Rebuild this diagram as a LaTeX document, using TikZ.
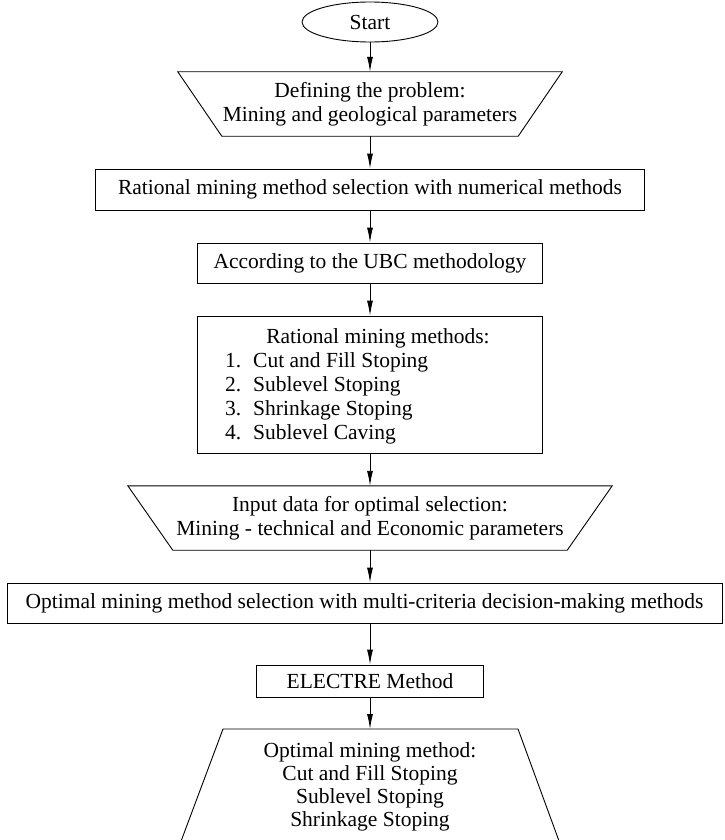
\documentclass[tikz,border=0pt]{standalone}
\usepackage{fontspec}
\setmainfont{Liberation Serif}
\usetikzlibrary{shapes.geometric,arrows.meta}
\tikzset{
  base/.style={font=\fontsize{21.5}{24}\selectfont, inner sep=0pt, align=center},
  box/.style={base, draw, line width=0.9pt, rectangle},
  arr/.style={-{Latex[length=15pt,width=6pt]}, line width=0.9pt},
  outline/.style={draw, line width=0.9pt, line join=miter}
}
\begin{document}
\begin{tikzpicture}[x=1pt,y=-1pt]
\useasboundingbox (0,0) rectangle (724,840);
\clip (0,0) rectangle (724,840);
\fill[white] (0,0) rectangle (724,840);

\node[base, draw, ellipse, line width=0.9pt, minimum width=136pt, minimum height=40pt] (start) at (370,22) {Start};

\node[base, minimum width=384pt, minimum height=64pt] (t1) at (370,104) {Defining the problem:\\Mining and geological parameters};
\draw[outline] (t1.north west) -- (t1.north east) -- ([xshift=-44pt]t1.south east) -- ([xshift=44pt]t1.south west) -- cycle;

\node[box, minimum width=549pt, minimum height=41pt] (b1) at (370,189.5) {Rational mining method selection with numerical methods};

\node[box, minimum width=345pt, minimum height=40pt] (b2) at (370,263) {According to the UBC methodology};

\node[box, minimum width=345pt, minimum height=137pt] (b3) at (370,384.5) {};
\node[base, anchor=base] (b3t) at (378,343) {Rational mining methods:};
\node[base, anchor=base west] (b3a) at (225,367) {\makebox[28pt][l]{1.}Cut and Fill Stoping};
\node[base, anchor=base west] (b3b) at (225,391) {\makebox[28pt][l]{2.}Sublevel Stoping};
\node[base, anchor=base west] (b3c) at (225,415) {\makebox[28pt][l]{3.}Shrinkage Stoping};
\node[base, anchor=base west] (b3d) at (225,439) {\makebox[28pt][l]{4.}Sublevel Caving};

\node[base, minimum width=484pt, minimum height=64pt] (t2) at (370,518) {Input data for optimal selection:\\Mining - technical and Economic parameters};
\draw[outline] (t2.north west) -- (t2.north east) -- ([xshift=-45pt]t2.south east) -- ([xshift=45pt]t2.south west) -- cycle;

\node[box, minimum width=715pt, minimum height=40pt] (b4) at (364.5,603) {Optimal mining method selection with multi-criteria decision-making methods};

\node[box, minimum width=227pt, minimum height=32pt] (b5) at (370,681) {ELECTRE Method};

\node[base, anchor=north, inner ysep=13pt, font=\fontsize{21.5}{23}\selectfont] (fin) at (370,729) {Optimal mining method:\\Cut and Fill Stoping\\Sublevel Stoping\\Shrinkage Stoping};
\draw[outline] ([xshift=-196pt,yshift=-131pt]fin.north) -- ([xshift=-147pt]fin.north) -- ([xshift=148pt]fin.north) -- ([xshift=196pt,yshift=-131pt]fin.north);

\draw[arr] (start.south) -- (t1.north);
\draw[arr] (t1.south) -- (b1.north);
\draw[arr] (b1.south) -- (b2.north);
\draw[arr] (b2.south) -- (b3.north);
\draw[arr] (b3.south) -- (t2.north);
\draw[arr] (t2.south) -- (t2.south |- b4.north);
\draw[arr] (b5.north |- b4.south) -- (b5.north);
\draw[arr] (b5.south) -- (fin.north);
\end{tikzpicture}
\end{document}
